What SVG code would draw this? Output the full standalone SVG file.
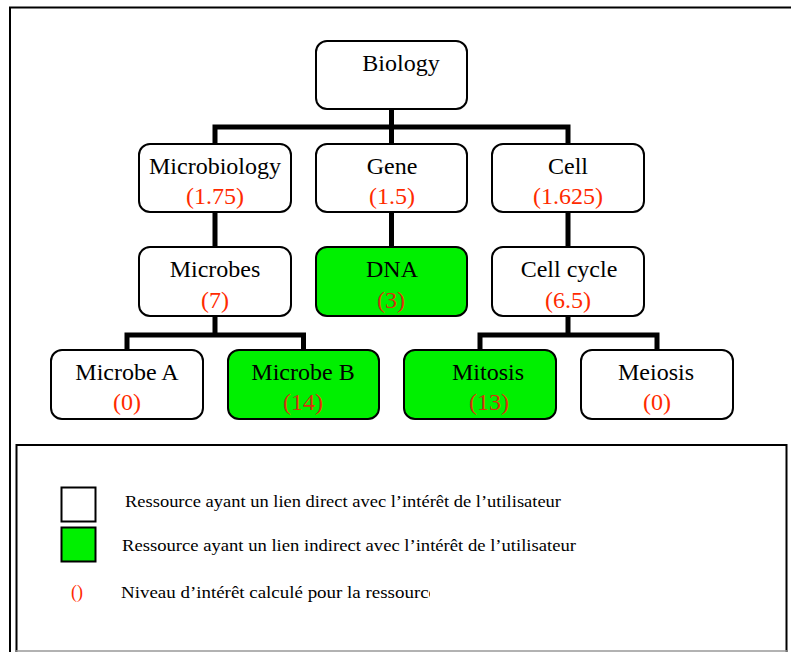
<svg xmlns="http://www.w3.org/2000/svg" width="791" height="652" viewBox="0 0 791 652">
<defs>
<style>
text{font-family:'Liberation Serif','Times New Roman','DejaVu Serif',serif}
.node rect{stroke:#000;stroke-width:2}
.w rect{fill:#fff}
.g rect{fill:#00f000}
.lbl{font-size:24px;fill:#000;text-anchor:middle}
.val{font-size:24px;fill:#ff2a00;text-anchor:middle}
.g .val{fill:#d8300c}
.leg{font-size:17px;fill:#000}
.conn{fill:none;stroke:#000;stroke-width:5;stroke-linejoin:miter;stroke-linecap:butt}
</style>
<clipPath id="clip3"><rect x="100" y="570" width="330" height="40"/></clipPath>
</defs>
<rect x="0" y="0" width="791" height="652" fill="#fff"/>
<path d="M10,652 V7.5 H791" fill="none" stroke="#000" stroke-width="2"/>
<g id="connectors" class="conn">
<path d="M391.5,109 V127 M215,144 V127 H568 V144 M391.5,127 V144"/>
<path d="M215,212 V247 M391.5,212 V247 M568,212 V247"/>
<path d="M215,316 V335 M127,350 V335 H303.5 V350"/>
<path d="M568,316 V335 M480,350 V335 H657 V350"/>
</g>
<g id="biology" class="node w"><rect x="316" y="41" width="151" height="68" rx="11"/><text class="lbl" x="401" y="71">Biology</text></g>
<g id="microbiology" class="node w"><rect x="139" y="144" width="152" height="68" rx="11"/><text class="lbl" x="215" y="174">Microbiology</text><text class="val" x="215" y="204">(1.75)</text></g>
<g id="gene" class="node w"><rect x="316" y="144" width="151" height="68" rx="11"/><text class="lbl" x="392" y="174">Gene</text><text class="val" x="392" y="204">(1.5)</text></g>
<g id="cell" class="node w"><rect x="492" y="144" width="152" height="68" rx="11"/><text class="lbl" x="568" y="174">Cell</text><text class="val" x="568" y="204">(1.625)</text></g>
<g id="microbes" class="node w"><rect x="139" y="247" width="152" height="69" rx="11"/><text class="lbl" x="215" y="277">Microbes</text><text class="val" x="215" y="308">(7)</text></g>
<g id="dna" class="node g"><rect x="316" y="247" width="151" height="69" rx="11"/><text class="lbl" x="392" y="277">DNA</text><text class="val" x="391" y="308">(3)</text></g>
<g id="cellcycle" class="node w"><rect x="492" y="247" width="152" height="69" rx="11"/><text class="lbl" x="569" y="277">Cell cycle</text><text class="val" x="568" y="308">(6.5)</text></g>
<g id="microbeA" class="node w"><rect x="51" y="350" width="152" height="69" rx="11"/><text class="lbl" x="127" y="380">Microbe A</text><text class="val" x="127" y="410">(0)</text></g>
<g id="microbeB" class="node g"><rect x="228" y="350" width="151" height="69" rx="11"/><text class="lbl" x="303" y="380">Microbe B</text><text class="val" x="303" y="410">(14)</text></g>
<g id="mitosis" class="node g"><rect x="404" y="350" width="152" height="69" rx="11"/><text class="lbl" x="488" y="380">Mitosis</text><text class="val" x="489" y="410">(13)</text></g>
<g id="meiosis" class="node w"><rect x="581" y="350" width="152" height="69" rx="11"/><text class="lbl" x="656" y="380">Meiosis</text><text class="val" x="657" y="410">(0)</text></g>
<g id="legend">
<path d="M16.5,652 V445 H786.5 V652" fill="none" stroke="#000" stroke-width="2"/>
<line x1="16" y1="651" x2="787" y2="651" stroke="#999" stroke-width="1.5"/>
<rect x="61.5" y="487.5" width="34" height="34" fill="#fff" stroke="#000" stroke-width="2"/>
<rect x="61.5" y="527.5" width="34" height="34" fill="#00f000" stroke="#000" stroke-width="2"/>
<text x="77" y="598" font-size="18" fill="#ff2a00" text-anchor="middle">()</text>
<text class="leg" x="125" y="507" textLength="436" lengthAdjust="spacingAndGlyphs">Ressource ayant un lien direct avec l’intérêt de l’utilisateur</text>
<text class="leg" x="122" y="551" textLength="454" lengthAdjust="spacingAndGlyphs">Ressource ayant un lien indirect avec l’intérêt de l’utilisateur</text>
<text class="leg" x="121" y="598" textLength="316" lengthAdjust="spacingAndGlyphs" clip-path="url(#clip3)">Niveau d’intérêt calculé pour la ressource</text>
</g>
</svg>
